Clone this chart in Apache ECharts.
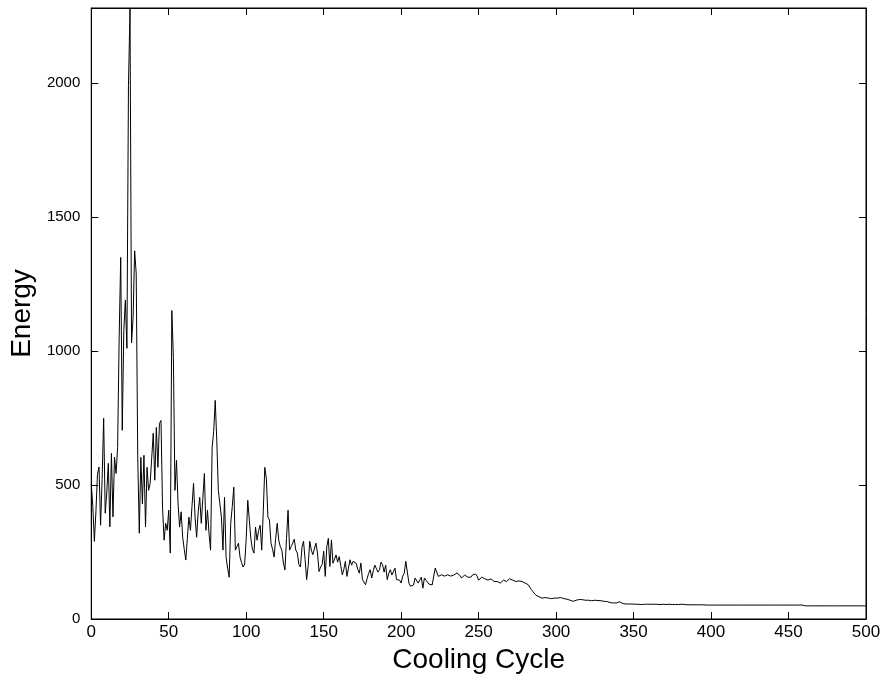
<!DOCTYPE html>
<html>
<head>
<meta charset="utf-8">
<script src="https://cdn.jsdelivr.net/npm/echarts@6/dist/echarts.min.js"></script>
<style>
html,body{margin:0;padding:0;background:#fff;}
#chart{width:887px;height:680px;}
</style>
</head>
<body>
<div id="chart"></div>
<script>
// Energy per cooling cycle (index = cycle 0..500)
const energy = [
505,420,290,400,540,567,350,520,749,395,
470,581,344,618,381,604,543,640,1050,1349,
704,1076,1190,1010,1990,2276,1030,1126,1374,1288,
600,320,603,430,611,343,566,480,506,600,
693,518,715,566,730,741,417,294,357,331,
406,246,1151,976,480,592,432,343,400,305,
260,220,300,380,331,420,506,380,305,400,
454,357,450,543,331,406,320,257,641,700,
816,667,480,430,380,257,454,231,190,156,
357,420,492,257,270,283,231,210,194,205,
300,443,369,300,260,246,343,294,330,350,
257,400,566,525,380,369,283,260,231,300,
357,294,270,257,209,183,300,406,257,270,
283,298,257,246,203,194,268,290,222,147,
200,290,257,240,233,283,246,177,194,203,
253,159,270,301,196,295,208,209,239,212,
233,200,165,185,215,159,190,221,201,215,
212,208,185,171,209,147,145,128,150,170,
184,153,180,201,208,175,184,212,202,175,
201,147,170,184,164,159,190,147,153,145,
134,160,171,215,175,134,122,119,127,153,
150,134,145,156,115,153,145,147,130,128,
127,134,190,175,159,156,165,171,160,156,
165,171,160,153,164,170,172,175,162,153,
160,164,160,156,158,156,164,164,168,160,
145,152,156,156,150,145,145,148,150,144,
140,142,140,136,134,140,145,142,140,145,
150,146,145,142,140,140,142,140,140,138,
134,134,128,119,110,102,95,89,86,83,
83,78,76,80,83,78,73,76,80,78,
76,78,80,80,78,76,76,74,72,70,
68,66,68,70,72,73,73,72,70,70,
72,70,70,68,70,70,68,69,70,68,
68,66,66,65,63,61,60,60,61,60,
62,64,60,58,57,56,55,56,56,56,
55,55,56,55,55,54,55,55,56,55,
55,55,54,55,55,55,54,54,55,55,
55,54,54,55,55,54,54,54,54,54,
54,55,54,54,53,53,53,53,53,53,
53,53,53,53,53,53,53,52,52,52,
52,52,52,52,52,52,52,52,52,52,
52,52,52,52,52,52,52,52,52,52,
52,52,52,52,52,52,52,52,52,52,
52,52,52,52,52,52,52,52,52,52,
52,52,52,52,52,52,52,52,52,52,
52,52,52,52,52,52,52,52,52,52,
49,49,49,49,49,49,49,49,49,49,
49,49,49,49,49,49,49,49,49,49,
49,49,49,49,49,49,49,49,49,49,
49,49,49,49,49,49,49,49,49,49,
49
];
const xTitle = 'Cooling Cycle';
const yTitle = 'Energy';
const xMin = 0, xMax = 500, xStep = 50;
const yMin = 0, yMax = 2280, yStep = 500;

const points = energy.map((v, i) => [i, v]);

const FONT = "'Liberation Sans', Arial, Helvetica, sans-serif";
const axisLineStyle = { show: true, onZero: false, lineStyle: { color: '#000', width: 1 } };
const tickStyle = { show: true, inside: true, length: 7, lineStyle: { color: '#000', width: 1 } };

const chart = echarts.init(document.getElementById('chart'), null, { renderer: 'canvas' });
chart.setOption({
  animation: false,
  backgroundColor: '#fff',
  grid: { left: 91, right: 21, top: 8, bottom: 61, containLabel: false,
          show: true, borderColor: '#000', borderWidth: 1, backgroundColor: 'transparent' },
  xAxis: [{
    type: 'value', min: xMin, max: xMax, interval: xStep,
    position: 'bottom',
    name: xTitle, nameLocation: 'middle', nameGap: 27,
    nameTextStyle: { fontFamily: FONT, fontSize: 28, color: '#000' },
    axisLine: axisLineStyle,
    axisTick: tickStyle,
    axisLabel: { margin: 5, fontFamily: FONT, fontSize: 17, color: '#000' },
    splitLine: { show: false }
  }, {
    type: 'value', min: xMin, max: xMax, interval: xStep,
    position: 'top',
    axisLine: axisLineStyle,
    axisTick: tickStyle,
    axisLabel: { show: false },
    splitLine: { show: false }
  }],
  yAxis: [{
    type: 'value', min: yMin, max: yMax, interval: yStep,
    position: 'left',
    name: yTitle, nameLocation: 'middle', nameGap: 46, nameRotate: 90,
    nameTextStyle: { fontFamily: FONT, fontSize: 28, color: '#000' },
    axisLine: axisLineStyle,
    axisTick: tickStyle,
    axisLabel: {
      margin: 11, fontFamily: FONT, fontSize: 15, color: '#000',
      showMaxLabel: false,
      formatter: v => (v % yStep === 0 ? String(v) : '')
    },
    splitLine: { show: false }
  }, {
    type: 'value', min: yMin, max: yMax, interval: yStep,
    position: 'right',
    axisLine: axisLineStyle,
    axisTick: tickStyle,
    axisLabel: { show: false },
    splitLine: { show: false }
  }],
  series: [{
    type: 'line',
    xAxisIndex: 0, yAxisIndex: 0,
    data: points,
    showSymbol: false,
    symbol: 'none',
    lineStyle: { color: '#000', width: 1 },
    silent: true
  }, {
    type: 'line',
    xAxisIndex: 1, yAxisIndex: 1,
    data: [],
    showSymbol: false,
    silent: true
  }]
});
</script>
</body>
</html>
